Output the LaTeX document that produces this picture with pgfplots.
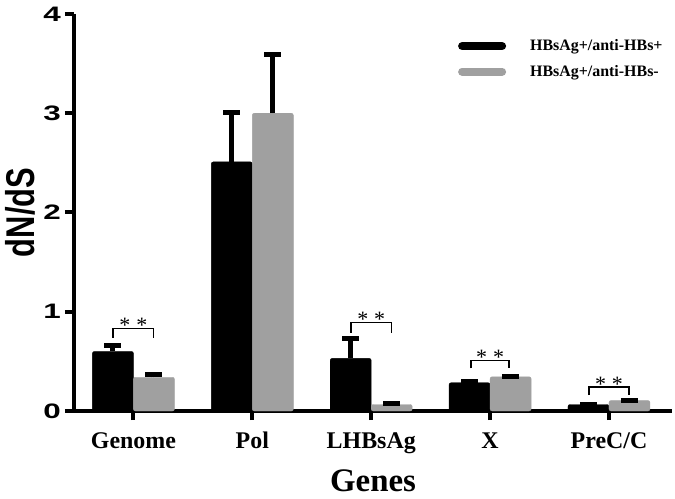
\documentclass[border=0pt]{standalone}
\usepackage{fontspec}
\setmainfont{Liberation Serif}
\newfontfamily\arialwide[FakeStretch=1.5]{Liberation Sans}
\newfontfamily\arial{Liberation Sans}
\usepackage{pgfplots}
\pgfplotsset{compat=1.18}
\definecolor{barg}{HTML}{A0A0A0}
\begin{document}
\begin{tikzpicture}
\useasboundingbox (-74bp,-88bp) rectangle (601bp,411bp);
\begin{axis}[
  at={(0,0)}, anchor=south west,
  scale only axis, width=598bp, height=397bp,
  xmin=-0.5, xmax=4.53, ymin=0, ymax=4,
  axis x line*=bottom, axis y line*=left,
  axis line style={line width=4bp, -},
  tick style={line width=4bp, black},
  major tick length=9bp, tick align=outside,
  ytick={0,1,2,3,4},
  xtick={0,1,2,3,4},
  xticklabels={Genome,Pol,LHBsAg,X,PreC/C},
  /pgf/number format/assume math mode=true,
  x tick label style={font=\bfseries\fontsize{24}{24}\selectfont, inner sep=0pt, anchor=base, yshift=-28bp},
  y tick label style={font=\arialwide\bfseries\fontsize{21}{21}\selectfont, inner sep=0pt, xshift=-4bp},
  ylabel={\scalebox{1}[1.3]{dN/dS}},
  ylabel style={font=\arial\bfseries\fontsize{31}{31}\selectfont, at={([xshift=-54bp]axis description cs:0,0.5)}, anchor=center},
  xlabel={Genes},
  xlabel style={font=\bfseries\fontsize{33}{33}\selectfont, at={([yshift=-80bp]axis description cs:0.5,0)}, anchor=base, inner sep=0pt},
  ybar=0pt, bar width=41bp,
  clip=false,
  legend style={draw=none, fill=none, at={(rel axis cs:0.642,0.887)}, anchor=west,
    font=\bfseries\fontsize{16}{16}\selectfont, row sep=9bp, inner sep=0pt},
  legend cell align=left,
]
\addplot[fill=black, draw=black, rounded corners=2bp,
  legend image code/.code={\draw[black, line width=8bp, line cap=round] (4bp,0) -- (44bp,0); \path[draw=none, fill=none] (0,0) rectangle (70bp,0.1bp);},
  error bars/.cd, y dir=plus, y explicit,
  error bar style={line width=5bp, black, sharp corners},
  error mark=|,
  error mark options={line width=5bp, mark size=8.5bp, black, sharp corners}]
  coordinates {(0,0.60) +- (0,0.06) (1,2.51) +- (0,0.50) (2,0.53) +- (0,0.20) (3,0.285) +- (0,0.01) (4,0.065) +- (0,0.0)};
\addlegendentry{HBsAg+/anti-HBs+}
\addplot[fill=barg, draw=barg, rounded corners=2bp,
  legend image code/.code={\draw[barg, line width=8bp, line cap=round] (4bp,0) -- (44bp,0); \path[draw=none, fill=none] (0,0) rectangle (70bp,0.1bp);},
  error bars/.cd, y dir=plus, y explicit,
  error bar style={line width=5bp, black, sharp corners},
  error mark=|,
  error mark options={line width=5bp, mark size=8.5bp, black, sharp corners}]
  coordinates {(0,0.34) +- (0,0.03) (1,3.00) +- (0,0.59) (2,0.065) +- (0,0.01) (3,0.345) +- (0,0.0) (4,0.105) +- (0,0.0)};
\addlegendentry{HBsAg+/anti-HBs-}
\addplot[sharp plot, black, line width=1.5bp, forget plot, mark=none] coordinates {(-0.17,0.74) (-0.17,0.83) (0.17,0.83) (0.17,0.74)};
\addplot[sharp plot, black, line width=1.5bp, forget plot, mark=none] coordinates {(1.83,0.79) (1.83,0.89) (2.17,0.89) (2.17,0.79)};
\addplot[sharp plot, black, line width=1.5bp, forget plot, mark=none] coordinates {(2.84,0.43) (2.84,0.51) (3.16,0.51) (3.16,0.43)};
\addplot[sharp plot, black, line width=1.5bp, forget plot, mark=none] coordinates {(3.83,0.16) (3.83,0.24) (4.17,0.24) (4.17,0.16)};
\node[anchor=base, font=\fontsize{22}{22}\selectfont, yshift=-4bp] at (axis cs:0,0.83) {*\hspace{6bp}*};
\node[anchor=base, font=\fontsize{22}{22}\selectfont, yshift=-4bp] at (axis cs:2,0.89) {*\hspace{6bp}*};
\node[anchor=base, font=\fontsize{22}{22}\selectfont, yshift=-4bp] at (axis cs:3,0.51) {*\hspace{6bp}*};
\node[anchor=base, font=\fontsize{22}{22}\selectfont, yshift=-4bp] at (axis cs:4,0.24) {*\hspace{6bp}*};
\end{axis}
\end{tikzpicture}
\end{document}
